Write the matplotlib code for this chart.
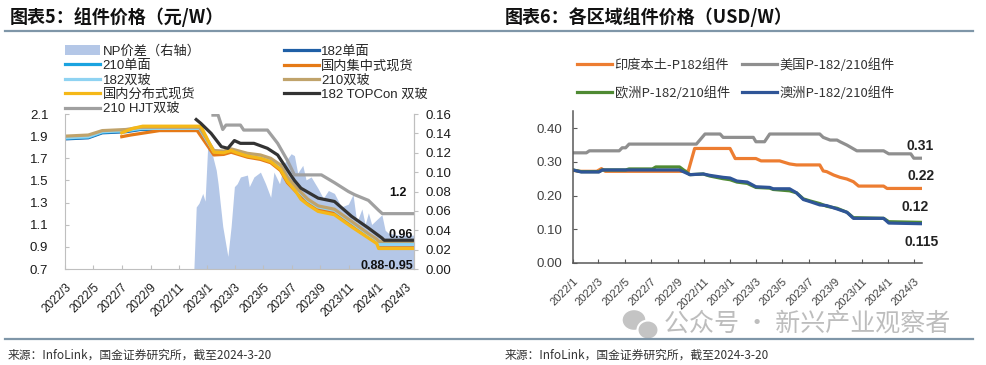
import numpy as np
import pandas as pd
import matplotlib
matplotlib.use('Agg')
import matplotlib.pyplot as plt
from matplotlib.lines import Line2D
from matplotlib.patches import Patch, Ellipse
from matplotlib.ticker import FormatStrFormatter

plt.rcParams['font.family'] = ['Liberation Sans', 'Noto Sans CJK SC']
CJK = ['Noto Sans CJK SC', 'DejaVu Sans']

# ---------------- chart 5: 组件价格 (元/W) ----------------
left_ticks = ['2022/3', '2022/5', '2022/7', '2022/9', '2022/11', '2023/1', '2023/3',
              '2023/5', '2023/7', '2023/9', '2023/11', '2024/1', '2024/3']

np_dates = ['2022-12-03', '2022-12-08', '2022-12-14', '2022-12-22', '2022-12-27', '2023-01-02',
            '2023-01-09', '2023-01-20', '2023-01-24', '2023-02-03', '2023-02-14', '2023-02-21',
            '2023-02-28', '2023-03-06', '2023-03-13', '2023-03-28', '2023-04-01', '2023-04-11',
            '2023-04-25', '2023-05-06', '2023-05-17', '2023-05-24', '2023-06-05', '2023-06-15',
            '2023-06-30', '2023-07-07', '2023-07-14', '2023-07-25', '2023-08-01', '2023-08-12',
            '2023-08-27', '2023-09-07', '2023-09-18', '2023-10-01', '2023-10-16', '2023-10-31',
            '2023-11-10', '2023-11-18', '2023-11-29', '2023-12-06', '2023-12-13', '2023-12-20',
            '2024-01-11', '2024-01-18', '2024-01-25', '2024-02-15', '2024-03-20']
np_vals = [0, 0.064, 0.068, 0.078, 0.070, 0.130, 0.123, 0.102, 0.088, 0.044, 0.013, 0.044,
           0.085, 0.088, 0.095, 0.097, 0.085, 0.095, 0.100, 0.088, 0.074, 0.100, 0.088, 0.109,
           0.119, 0.117, 0.099, 0.107, 0.092, 0.095, 0.083, 0.073, 0.081, 0.078, 0.064, 0.067,
           0.077, 0.048, 0.062, 0.046, 0.058, 0.046, 0.056, 0.040, 0.037, 0.035, 0.035]

mono_dates = ['2022-03-01', '2022-04-20', '2022-05-20', '2022-07-10', '2022-08-10', '2022-12-15',
              '2023-01-15', '2023-02-05', '2023-02-21', '2023-03-28', '2023-04-25', '2023-05-17',
              '2023-06-07', '2023-06-22', '2023-07-10', '2023-08-05', '2023-08-27', '2023-10-01',
              '2023-11-07', '2023-12-13', '2023-12-31', '2024-01-04', '2024-03-20']
mono182 = [1.875, 1.885, 1.93, 1.94, 1.96, 1.96, 1.75, 1.745, 1.765, 1.725, 1.71, 1.68,
           1.62, 1.51, 1.42, 1.31, 1.25, 1.22, 1.11, 1.00, 0.95, 0.93, 0.93]
mono210 = [1.88, 1.89, 1.935, 1.945, 1.965, 1.965, 1.755, 1.75, 1.77, 1.73, 1.715, 1.685,
           1.625, 1.515, 1.425, 1.315, 1.255, 1.225, 1.115, 1.005, 0.955, 0.93, 0.93]
bi182 = [1.885, 1.895, 1.94, 1.95, 1.97, 1.97, 1.76, 1.755, 1.775, 1.735, 1.72, 1.69,
         1.63, 1.52, 1.43, 1.32, 1.26, 1.23, 1.12, 1.01, 0.96, 0.92, 0.92]
bi210 = [1.90, 1.91, 1.95, 1.96, 1.98, 1.98, 1.77, 1.765, 1.785, 1.745, 1.73, 1.70,
         1.64, 1.53, 1.44, 1.33, 1.27, 1.24, 1.13, 1.02, 0.97, 0.95, 0.95]

central_dates = ['2022-07-01', '2022-07-20', '2022-08-20', '2022-09-20', '2022-12-10', '2023-01-15',
                 '2023-02-05', '2023-02-21', '2023-03-28', '2023-04-25', '2023-05-17', '2023-06-07',
                 '2023-06-22', '2023-07-10', '2023-08-05', '2023-08-27', '2023-10-01', '2023-11-07',
                 '2023-12-13', '2023-12-31', '2024-01-04', '2024-03-20']
central = [1.895, 1.91, 1.93, 1.95, 1.95, 1.73, 1.735, 1.755, 1.71, 1.69, 1.66, 1.59,
           1.48, 1.40, 1.30, 1.24, 1.21, 1.10, 0.99, 0.94, 0.91, 0.90]

dist_dates = ['2022-07-01', '2022-07-25', '2022-08-15', '2022-12-18', '2023-01-15', '2023-02-05',
              '2023-02-21', '2023-03-05', '2023-03-28', '2023-04-25', '2023-05-17', '2023-06-07',
              '2023-06-22', '2023-07-10', '2023-07-21', '2023-08-05', '2023-08-27', '2023-10-01',
              '2023-11-07', '2023-12-13', '2023-12-31', '2024-01-04', '2024-03-20']
distributed = [1.93, 1.97, 1.99, 1.99, 1.755, 1.75, 1.77, 1.75, 1.72, 1.70, 1.67, 1.60,
               1.49, 1.40, 1.33, 1.28, 1.22, 1.19, 1.08, 0.98, 0.93, 0.885, 0.885]

topcon_dates = ['2022-12-08', '2022-12-18', '2023-01-09', '2023-01-31', '2023-02-14', '2023-02-28',
                '2023-03-13', '2023-04-11', '2023-05-10', '2023-06-01', '2023-06-22', '2023-07-07',
                '2023-07-21', '2023-08-27', '2023-10-01', '2023-11-07', '2023-12-13', '2024-01-11',
                '2024-01-16', '2024-03-20']
topcon = [2.05, 2.015, 1.925, 1.805, 1.79, 1.86, 1.835, 1.835, 1.79, 1.73, 1.595, 1.50,
          1.43, 1.34, 1.31, 1.175, 1.07, 0.98, 0.96, 0.96]

hjt_dates = ['2023-01-13', '2023-01-24', '2023-02-03', '2023-02-10', '2023-03-13', '2023-03-20',
             '2023-05-10', '2023-06-01', '2023-06-22', '2023-07-07', '2023-09-03', '2023-10-01',
             '2023-10-31', '2023-11-14', '2023-12-13', '2024-01-04', '2024-01-12', '2024-03-20']
hjt = [2.09, 2.09, 1.96, 2.0, 2.0, 1.955, 1.955, 1.835, 1.68, 1.55, 1.55, 1.48,
       1.40, 1.37, 1.32, 1.23, 1.20, 1.20]

# ---------------- chart 6: 各区域组件价格 (USD/W) ----------------
right_ticks = ['2022/1', '2022/3', '2022/5', '2022/7', '2022/9', '2022/11', '2023/1',
               '2023/3', '2023/5', '2023/7', '2023/9', '2023/11', '2024/1', '2024/3']

us_dates = ['2022-01-01', '2022-02-01', '2022-02-08', '2022-04-18', '2022-04-25', '2022-05-03',
            '2022-05-11', '2022-10-14', '2022-10-22', '2022-11-03', '2022-12-08', '2022-12-15',
            '2023-02-23', '2023-03-01', '2023-03-21', '2023-04-02', '2023-07-27', '2023-08-04',
            '2023-08-20', '2023-09-05', '2023-09-12', '2023-09-28', '2023-10-21', '2023-12-22',
            '2024-01-03', '2024-02-23', '2024-03-01', '2024-03-20']
us = [0.327, 0.327, 0.333, 0.333, 0.342, 0.342, 0.353, 0.353, 0.365, 0.383, 0.383, 0.373,
      0.373, 0.360, 0.360, 0.383, 0.383, 0.373, 0.365, 0.365, 0.360, 0.350, 0.333, 0.333,
      0.324, 0.324, 0.311, 0.311]

india_dates = ['2022-01-01', '2022-01-15', '2022-02-25', '2022-03-08', '2022-03-17', '2022-09-25',
               '2022-10-10', '2022-12-31', '2023-01-12', '2023-03-01', '2023-03-13', '2023-04-25',
               '2023-05-18', '2023-06-03', '2023-07-27', '2023-08-04', '2023-08-12', '2023-08-28',
               '2023-09-12', '2023-09-28', '2023-10-13', '2023-10-25', '2023-12-22', '2023-12-30',
               '2024-03-20']
india = [0.275, 0.272, 0.272, 0.280, 0.272, 0.272, 0.340, 0.340, 0.310, 0.310, 0.303, 0.303,
         0.294, 0.291, 0.291, 0.273, 0.271, 0.261, 0.254, 0.249, 0.241, 0.228, 0.228, 0.221,
         0.221]

region_dates = ['2022-01-01', '2022-01-20', '2022-03-02', '2022-03-10', '2022-05-03', '2022-05-11',
                '2022-07-04', '2022-07-12', '2022-09-05', '2022-09-29', '2022-10-30', '2022-11-14',
                '2022-12-15', '2022-12-31', '2023-01-16', '2023-02-09', '2023-03-01', '2023-04-02',
                '2023-04-10', '2023-05-18', '2023-06-03', '2023-06-19', '2023-07-04', '2023-07-27',
                '2023-08-12', '2023-09-05', '2023-09-28', '2023-10-13', '2023-12-22', '2024-01-03',
                '2024-03-20']
europe = [0.276, 0.271, 0.271, 0.276, 0.276, 0.279, 0.279, 0.285, 0.285, 0.262, 0.264, 0.258,
          0.250, 0.247, 0.240, 0.236, 0.224, 0.222, 0.218, 0.214, 0.208, 0.190, 0.184, 0.176,
          0.168, 0.162, 0.150, 0.134, 0.132, 0.122, 0.120]
australia = [0.276, 0.270, 0.270, 0.276, 0.276, 0.276, 0.276, 0.276, 0.276, 0.262, 0.264, 0.260,
             0.254, 0.252, 0.243, 0.240, 0.226, 0.224, 0.220, 0.220, 0.208, 0.188, 0.182, 0.172,
             0.170, 0.160, 0.150, 0.132, 0.132, 0.118, 0.116]

W, H = 986, 365
fig = plt.figure(figsize=(W / 100, H / 100), dpi=100)
to = pd.to_datetime

# ---- left panel ----
axL = fig.add_axes([65 / W, 1 - 269 / H, 349 / W, 155 / H])
axN = axL.twinx()
axL.set_zorder(axN.get_zorder() + 1)
axL.patch.set_visible(False)

lw = 2.3
l_m182, = axL.plot(to(mono_dates), mono182, color='#1f5fa6', lw=lw)
l_m210, = axL.plot(to(mono_dates), mono210, color='#1aa3e0', lw=lw)
l_cen, = axL.plot(to(central_dates), central, color='#e57a17', lw=lw)
l_b182, = axL.plot(to(mono_dates), bi182, color='#8fd3f2', lw=lw)
l_b210, = axL.plot(to(mono_dates), bi210, color='#c0a36b', lw=lw)
l_dis, = axL.plot(to(dist_dates), distributed, color='#f5b818', lw=lw)
l_top, = axL.plot(to(topcon_dates), topcon, color='#333333', lw=lw)
l_hjt, = axL.plot(to(hjt_dates), hjt, color='#a0a0a0', lw=lw)
axN.fill_between(to(np_dates), np_vals, color='#b4c7e7', lw=0)

axL.set_xlim(to('2022-03-01'), to('2024-03-20'))
axL.set_ylim(0.7, 2.1)
axL.set_yticks(np.arange(0.7, 2.11, 0.2))
axL.yaxis.set_major_formatter(FormatStrFormatter('%.1f'))
axN.set_ylim(0, 0.16)
axN.set_yticks(np.arange(0, 0.161, 0.02))
axN.yaxis.set_major_formatter(FormatStrFormatter('%.2f'))
axL.set_xticks(to(left_ticks, format='%Y/%m'))
axL.set_xticklabels(left_ticks, rotation=45, ha='right', rotation_mode='anchor')

for ax in (axL, axN):
    ax.spines['top'].set_visible(False)
    for s in ('left', 'bottom', 'right'):
        ax.spines[s].set_color('#bfbfbf')
axN.spines['left'].set_visible(False)
axN.spines['bottom'].set_visible(False)
axL.tick_params(axis='y', direction='in', length=3, color='#bfbfbf', pad=12,
                labelsize=9.5, labelcolor='#1a1a1a')
axL.tick_params(axis='x', direction='in', length=3, color='#bfbfbf', pad=9,
                labelsize=8.5, labelcolor='#1a1a1a')
axN.tick_params(axis='y', direction='out', length=3, color='#bfbfbf', pad=5,
                labelsize=9.5, labelcolor='#1a1a1a')

lbl = dict(fontsize=9, fontweight='bold', color='#111111', transform=axL.get_yaxis_transform())
axL.text(0.98, 1.386, '1.2', ha='right', va='center', **lbl)
axL.text(0.997, 1.007, '0.96', ha='right', va='center', **lbl)
axL.text(0.997, 0.73, '0.88-0.95', ha='right', va='center', **lbl)

np_handle = Patch(facecolor='#b4c7e7', edgecolor='none')
hl = [np_handle, l_m210, l_b182, l_dis, l_hjt, l_m182, l_cen, l_b210, l_top]
ll = ['NP价差（右轴）', '210单面', '182双玻', '国内分布式现货', '210 HJT双玻',
      '182单面', '国内集中式现货', '210双玻', '182 TOPCon 双玻']
fig.legend(hl, ll, loc='upper left', bbox_to_anchor=(65 / W, 1 - 45 / H), ncol=2,
           frameon=False, fontsize=9.5, handlelength=2.65, handletextpad=0.2,
           columnspacing=6.3, labelspacing=0.16, borderpad=0, borderaxespad=0,
           labelcolor='#262626')

# ---- right panel ----
axR = fig.add_axes([573 / W, 1 - 262.7 / H, 349 / W, 151.2 / H])
r_ind, = axR.plot(to(india_dates), india, color='#ed7d31', lw=lw)
r_us, = axR.plot(to(us_dates), us, color='#8f8f8f', lw=lw)
r_eu, = axR.plot(to(region_dates), europe, color='#4f8a33', lw=lw)
r_au, = axR.plot(to(region_dates), australia, color='#2f5597', lw=lw)

axR.set_xlim(to('2022-01-01'), to('2024-03-20'))
axR.set_ylim(0, 0.45)
axR.set_yticks([0, 0.1, 0.2, 0.3, 0.4])
axR.yaxis.set_major_formatter(FormatStrFormatter('%.2f'))
axR.set_xticks(to(right_ticks, format='%Y/%m'))
axR.set_xticklabels(right_ticks, rotation=45, ha='right', rotation_mode='anchor')
axR.spines['top'].set_visible(False)
axR.spines['right'].set_visible(False)
for s in ('left', 'bottom'):
    axR.spines[s].set_color('#595959')
    axR.spines[s].set_linewidth(1.1)
axR.tick_params(axis='y', direction='in', length=3, color='#595959', pad=8,
                labelsize=9.5, labelcolor='#404040')
axR.tick_params(axis='x', direction='in', length=3, color='#595959', pad=10,
                labelsize=8, labelcolor='#404040')

lbr = dict(fontsize=10, fontweight='bold', color='#222222', ha='center', va='center',
           transform=axR.get_yaxis_transform())
axR.text(0.994, 0.347, '0.31', **lbr)
axR.text(0.998, 0.258, '0.22', **lbr)
axR.text(0.981, 0.165, '0.12', **lbr)
axR.text(1.0, 0.0625, '0.115', **lbr)

fig.legend([r_ind, r_eu, r_us, r_au],
           ['印度本土-P182组件', '欧洲P-182/210组件', '美国P-182/210组件', '澳洲P-182/210组件'],
           loc='upper left', bbox_to_anchor=(577 / W, 1 - 58 / H), ncol=2, frameon=False,
           prop={'family': CJK, 'size': 9.5}, handlelength=2.65, handletextpad=0.2,
           columnspacing=0.9, labelspacing=1.1, borderpad=0, borderaxespad=0,
           labelcolor='#333333')

# ---- titles, rules, sources ----
fig.text(10 / W, 1 - 17 / H, '图表5：组件价格（元/W）', family=CJK, fontweight='bold',
         fontsize=13, va='center', color='#111111')
fig.text(505 / W, 1 - 17 / H, '图表6：各区域组件价格（USD/W）', family=CJK, fontweight='bold',
         fontsize=13, va='center', color='#111111')
for yy in (31, 339):
    fig.add_artist(Line2D([5 / W, 973 / W], [1 - yy / H] * 2, transform=fig.transFigure,
                          color='#7f96a8', lw=1.6))
src = '来源：InfoLink，国金证券研究所，截至2024-3-20'
fig.text(8 / W, 1 - 355 / H, src, family=CJK, fontsize=8.5, va='center', color='#333333')
fig.text(505 / W, 1 - 355 / H, src, family=CJK, fontsize=8.5, va='center', color='#333333')

# watermark
fig.add_artist(Ellipse((634 / W, 1 - 320 / H), 24 / W, 21 / H, transform=fig.transFigure,
                       facecolor='#c4c4c4', edgecolor='white', lw=1))
fig.add_artist(Ellipse((648 / W, 1 - 330 / H), 21 / W, 19 / H, transform=fig.transFigure,
                       facecolor='#c4c4c4', edgecolor='white', lw=1.5))
fig.text(664 / W, 1 - 324 / H, '公众号 · 新兴产业观察者', family=CJK, fontsize=18,
         va='center', color='#bdbdbd')

fig.savefig('out.png', dpi=100, facecolor='white')
